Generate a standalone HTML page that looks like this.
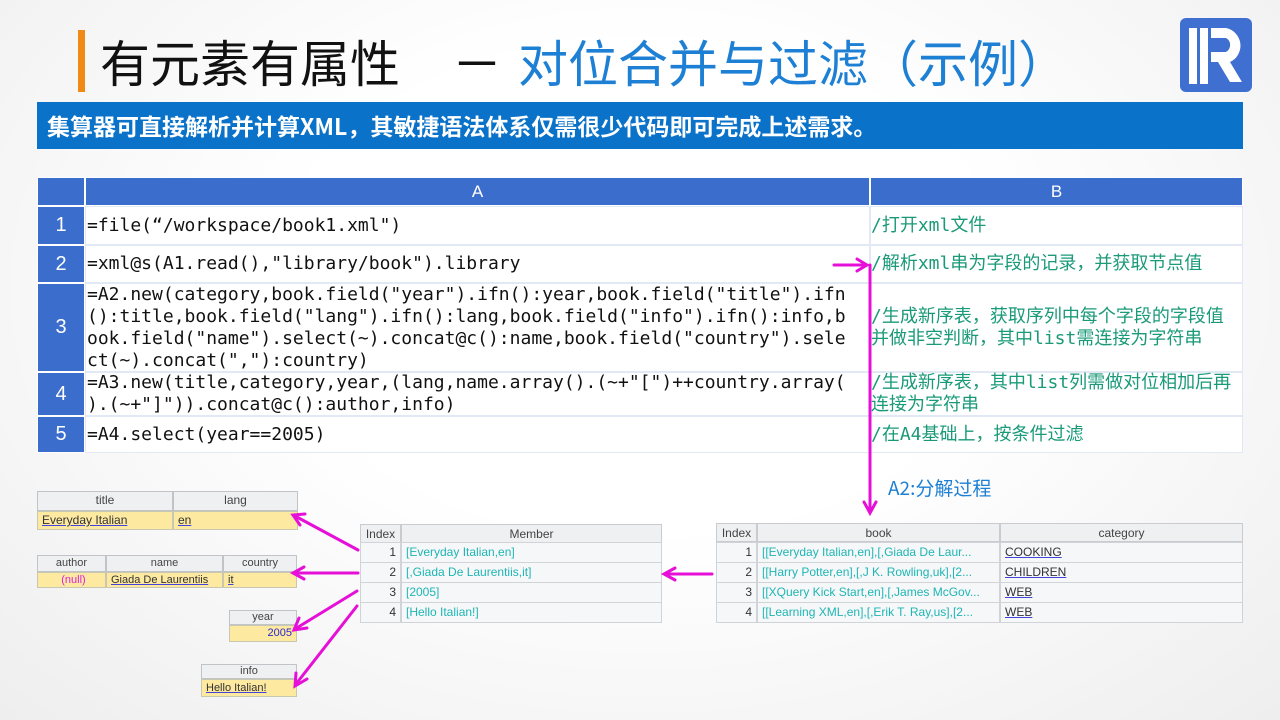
<!DOCTYPE html>
<html><head><meta charset="utf-8"><style>
*{margin:0;padding:0;box-sizing:border-box}
body{width:1280px;height:720px;overflow:hidden;background:radial-gradient(ellipse at 50% 40%,#ffffff 40%,#eeeeee 100%);font-family:"Liberation Sans","Noto Sans CJK SC",sans-serif;position:relative}
.a{position:absolute}
.mono{font-family:"DejaVu Sans Mono","Liberation Mono","Noto Sans CJK SC",monospace}
.cell{position:absolute;border:1px solid #e2e8f4;background:#fff}
.hd{background:#3b6dcc;color:#fff;text-align:center}
.num{background:#3b6dcc;color:#fff;font-size:20px;display:flex;align-items:center;justify-content:center;border-color:#fff}
.code{font-size:18px;line-height:22px;color:#111;padding-left:1px;display:flex;flex-direction:column;justify-content:center}
.cm{font-size:18px;line-height:22px;color:#1a9a78;display:flex;flex-direction:column;justify-content:center;font-family:"DejaVu Sans Mono","Noto Sans CJK SC",monospace}
.th{position:absolute;background:#eef0f2;border:1px solid #c0c4c8;text-align:center;font-size:12px;color:#444;line-height:17px}
.td{position:absolute;background:#fde9a0;border:1px solid #c8c8b0;font-size:12px;line-height:17px;padding-left:4px}
.u{color:#333;text-decoration:underline;text-decoration-color:#4444dd}
.gh{position:absolute;background:#eef0f2;border:1px solid #c8ccd0;font-size:12px;color:#444;text-align:center;line-height:18px}
.gd{position:absolute;background:#f6f7f8;border:1px solid #d0d4d8;font-size:12px;line-height:19px;color:#1fb5b5;padding-left:4px;white-space:nowrap;overflow:hidden}
.ttl{position:absolute;top:28px;font-size:50px;line-height:66px;font-family:'Noto Sans CJK SC',sans-serif;white-space:nowrap}
</style></head><body>
<div class="a" style="left:78px;top:30px;width:7px;height:62px;background:#f08a14"></div>
<div class="ttl" style="left:100px;color:#111">有元素有属性</div>
<div class="ttl" style="left:452px;color:#111">－</div>
<div class="ttl" style="left:518px;color:#1e80d4">对位合并与过滤（示例）</div>
<svg class="a" style="left:1180px;top:18px" width="72" height="74" viewBox="0 0 72 74"><rect x="0" y="0" width="72" height="74" rx="6" fill="#3f6fd0"/><rect x="9" y="10" width="8" height="56" fill="#fff"/><rect x="20" y="10" width="8" height="56" fill="#fff"/><path d="M31 10 H46 A18 18 0 0 1 50 44 L62 64 H50 L38 44 H31 V34 H46 A8 8 0 0 0 46 20 H31 Z" fill="#fff"/></svg>
<div class="a" style="left:37px;top:102px;width:1206px;height:47px;background:#0a72c8;color:#fff;font-size:23px;font-weight:bold;line-height:47px;padding-left:10px;font-family:'Noto Sans CJK SC',sans-serif">集算器可直接解析并计算XML，其敏捷语法体系仅需很少代码即可完成上述需求。</div>

<div class="cell hd" style="left:37px;top:177px;width:48px;height:29px;border-color:#fff"></div>
<div class="cell hd" style="left:85px;top:177px;width:785px;height:29px;line-height:28px;font-size:17px;border-color:#fff">A</div>
<div class="cell hd" style="left:870px;top:177px;width:373px;height:29px;line-height:28px;font-size:17px;border-color:#fff">B</div>

<div class="cell num" style="left:37px;top:206px;width:48px;height:39px">1</div>
<div class="cell code mono" style="left:85px;top:206px;width:785px;height:39px">=file(“/workspace/book1.xml")</div>
<div class="cell cm" style="left:870px;top:206px;width:373px;height:39px">/打开xml文件</div>
<div class="cell num" style="left:37px;top:245px;width:48px;height:38px">2</div>
<div class="cell code mono" style="left:85px;top:245px;width:785px;height:38px">=xml@s(A1.read(),"library/book").library</div>
<div class="cell cm" style="left:870px;top:245px;width:373px;height:38px">/解析xml串为字段的记录，并获取节点值</div>
<div class="cell num" style="left:37px;top:283px;width:48px;height:89px">3</div>
<div class="cell code mono" style="left:85px;top:283px;width:785px;height:89px;white-space:pre">=A2.new(category,book.field("year").ifn():year,book.field("title").ifn
():title,book.field("lang").ifn():lang,book.field("info").ifn():info,b
ook.field("name").select(~).concat@c():name,book.field("country").sele
ct(~).concat(","):country)</div>
<div class="cell cm" style="left:870px;top:283px;width:373px;height:89px">/生成新序表，获取序列中每个字段的字段值<br>并做非空判断，其中list需连接为字符串</div>
<div class="cell num" style="left:37px;top:372px;width:48px;height:44px">4</div>
<div class="cell code mono" style="left:85px;top:372px;width:785px;height:44px;white-space:pre">=A3.new(title,category,year,(lang,name.array().(~+"[")++country.array(
).(~+"]")).concat@c():author,info)</div>
<div class="cell cm" style="left:870px;top:372px;width:373px;height:44px">/生成新序表，其中list列需做对位相加后再<br>连接为字符串</div>
<div class="cell num" style="left:37px;top:416px;width:48px;height:37px">5</div>
<div class="cell code mono" style="left:85px;top:416px;width:785px;height:37px">=A4.select(year==2005)</div>
<div class="cell cm" style="left:870px;top:416px;width:373px;height:37px">/在A4基础上，按条件过滤</div>

<div class="a" style="left:888px;top:474px;font-size:19px;color:#1e80d4;font-family:'Noto Sans CJK SC',sans-serif">A2:分解过程</div>

<div class="th" style="left:37px;top:491px;width:136px;height:20px">title</div>
<div class="th" style="left:173px;top:491px;width:125px;height:20px">lang</div>
<div class="td" style="left:37px;top:511px;width:136px;height:19px"><span class="u">Everyday Italian</span></div>
<div class="td" style="left:173px;top:511px;width:125px;height:19px"><span class="u">en</span></div>

<div class="th" style="left:37px;top:555px;width:69px;height:17px;line-height:15px;font-size:11px">author</div>
<div class="th" style="left:106px;top:555px;width:117px;height:17px;line-height:15px;font-size:11px">name</div>
<div class="th" style="left:223px;top:555px;width:74px;height:17px;line-height:15px;font-size:11px">country</div>
<div class="td" style="left:37px;top:572px;width:69px;height:16px;line-height:14px;font-size:11px;color:#e020e0;text-align:center">(null)</div>
<div class="td" style="left:106px;top:572px;width:117px;height:16px;line-height:14px;font-size:11px"><span class="u">Giada De Laurentiis</span></div>
<div class="td" style="left:223px;top:572px;width:74px;height:16px;line-height:14px;font-size:11px"><span class="u">it</span></div>

<div class="th" style="left:229px;top:610px;width:68px;height:15px;line-height:13px;font-size:11px">year</div>
<div class="td" style="left:229px;top:625px;width:68px;height:17px;line-height:15px;font-size:11px;color:#2828d0;text-align:right;padding-right:4px">2005</div>

<div class="th" style="left:201px;top:664px;width:96px;height:15px;line-height:13px;font-size:11px">info</div>
<div class="td" style="left:201px;top:679px;width:96px;height:18px;line-height:16px;font-size:11px"><span class="u">Hello Italian!</span></div>

<div class="gh" style="left:360px;top:524px;width:41px;height:19px">Index</div>
<div class="gh" style="left:401px;top:524px;width:261px;height:19px">Member</div>
<div class="gd" style="left:360px;top:542px;width:41px;height:21px;color:#333;text-align:right;padding-right:4px">1</div>
<div class="gd" style="left:401px;top:542px;width:261px;height:21px">[Everyday Italian,en]</div>
<div class="gd" style="left:360px;top:562px;width:41px;height:21px;color:#333;text-align:right;padding-right:4px">2</div>
<div class="gd" style="left:401px;top:562px;width:261px;height:21px">[,Giada De Laurentiis,it]</div>
<div class="gd" style="left:360px;top:582px;width:41px;height:21px;color:#333;text-align:right;padding-right:4px">3</div>
<div class="gd" style="left:401px;top:582px;width:261px;height:21px">[2005]</div>
<div class="gd" style="left:360px;top:602px;width:41px;height:21px;color:#333;text-align:right;padding-right:4px">4</div>
<div class="gd" style="left:401px;top:602px;width:261px;height:21px">[Hello Italian!]</div>

<div class="gh" style="left:716px;top:523px;width:41px;height:19px">Index</div>
<div class="gh" style="left:757px;top:523px;width:243px;height:19px">book</div>
<div class="gh" style="left:1000px;top:523px;width:243px;height:19px">category</div>
<div class="gd" style="left:716px;top:542px;width:41px;height:21px;color:#333;text-align:right;padding-right:4px">1</div>
<div class="gd" style="left:757px;top:542px;width:243px;height:21px">[[Everyday Italian,en],[,Giada De Laur...</div>
<div class="gd" style="left:1000px;top:542px;width:243px;height:21px"><span class="u">COOKING</span></div>
<div class="gd" style="left:716px;top:562px;width:41px;height:21px;color:#333;text-align:right;padding-right:4px">2</div>
<div class="gd" style="left:757px;top:562px;width:243px;height:21px">[[Harry Potter,en],[,J K. Rowling,uk],[2...</div>
<div class="gd" style="left:1000px;top:562px;width:243px;height:21px"><span class="u">CHILDREN</span></div>
<div class="gd" style="left:716px;top:582px;width:41px;height:21px;color:#333;text-align:right;padding-right:4px">3</div>
<div class="gd" style="left:757px;top:582px;width:243px;height:21px">[[XQuery Kick Start,en],[,James McGov...</div>
<div class="gd" style="left:1000px;top:582px;width:243px;height:21px"><span class="u">WEB</span></div>
<div class="gd" style="left:716px;top:602px;width:41px;height:21px;color:#333;text-align:right;padding-right:4px">4</div>
<div class="gd" style="left:757px;top:602px;width:243px;height:21px">[[Learning XML,en],[,Erik T. Ray,us],[2...</div>
<div class="gd" style="left:1000px;top:602px;width:243px;height:21px"><span class="u">WEB</span></div>

<svg class="a" style="left:0;top:0" width="1280" height="720">
<g stroke="#e60fd8" stroke-width="3" fill="none" stroke-linecap="round">
<line x1="834" y1="265" x2="866" y2="265"/><polyline points="857,259 867,265 857,271"/>
<line x1="870" y1="265" x2="870" y2="512"/><polyline points="864,502 870,513 876,502"/>
<line x1="712" y1="574" x2="665" y2="574"/><polyline points="675,568 664,574 675,580"/>
<line x1="358" y1="550" x2="295" y2="516"/><polyline points="300,525 293,515 305,514"/>
<line x1="358" y1="573" x2="294" y2="573"/><polyline points="304,567 293,573 304,579"/>
<line x1="357" y1="591" x2="295" y2="629"/><polyline points="307,628 294,630 299,618"/>
<line x1="357" y1="606" x2="296" y2="684"/><polyline points="307,679 295,686 296,673"/>
</g></svg>
</body></html>
